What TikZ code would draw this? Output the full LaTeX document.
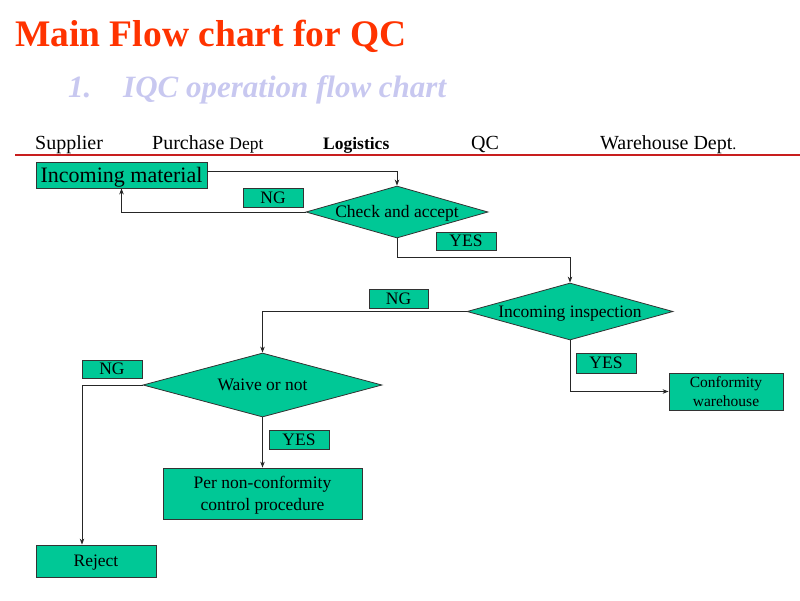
\documentclass[tikz,border=0pt]{standalone}
\usepackage{fontspec}
\setmainfont{Liberation Serif}
\usetikzlibrary{shapes.geometric,arrows.meta}
\definecolor{boxfill}{RGB}{0,200,150}
\definecolor{titlered}{RGB}{255,51,0}
\definecolor{subblue}{RGB}{200,200,240}
\definecolor{rulered}{RGB}{200,30,30}
\tikzset{
  fs/.style={font=\fontsize{#1}{#1}\selectfont},
  fsl/.style 2 args={font=\fontsize{#1}{#2}\selectfont},
  capc/.style={text height=#1, text depth=0pt},
  capc/.default=11.5pt,
  boxnode/.style={draw=black!80, line width=0.8pt, fill=boxfill, inner sep=0pt, align=center, fs=17.5},
  decide/.style={draw=black!80, line width=0.8pt, fill=boxfill, diamond, inner sep=0pt, fs=17.5, capc},
  flow/.style={draw=black!85, line width=1pt, -{Stealth[length=6pt,width=4.5pt]}},
  hdr/.style={anchor=base west, inner sep=0pt, fs=20}
}
\begin{document}
\begin{tikzpicture}[x=1pt,y=-1pt]
\useasboundingbox (0,0) rectangle (800,600);
% titles
\node[anchor=base west, inner sep=0pt, text=titlered, font=\fontsize{37.5}{37.5}\selectfont\bfseries] (title) at (15,46) {Main Flow chart for QC};
\node[anchor=base west, inner sep=0pt, text=subblue, font=\fontsize{31}{31}\selectfont\bfseries\itshape] (num) at (68,97) {1.};
\node[anchor=base west, inner sep=0pt, text=subblue, font=\fontsize{31}{31}\selectfont\bfseries\itshape] (subtitle) at (123,97) {IQC operation flow chart};
% header
\node[hdr] (h1) at (35,149) {Supplier};
\node[hdr] (h2) at (152,149) {Purchase {\fontsize{17.5}{17.5}\selectfont Dept}};
\node[hdr, font=\fontsize{17.5}{17.5}\selectfont\bfseries] (h3) at (323,149) {Logistics};
\node[hdr] (h4) at (471,149) {QC};
\node[hdr] (h5) at (600,149) {Warehouse Dept{\fontsize{16}{16}\selectfont .}};
\coordinate (r1) at (15,155);
\coordinate (r2) at (800,155);
\draw[rulered, line width=2.2pt] (r1) -- (r2);
% nodes
\node[boxnode, minimum width=171pt, minimum height=26pt, fs=22, capc=14.5pt] (inc) at (121.5,175) {Incoming material};
\node[decide, minimum width=182pt, minimum height=52pt] (check) at (397,212) {\makebox[0pt]{Check and accept}};
\node[boxnode, minimum width=60pt, minimum height=19pt, capc] (ng1) at (273,197.5) {NG};
\node[boxnode, minimum width=60pt, minimum height=18pt, capc] (yes1) at (466,241) {YES};
\node[decide, minimum width=206pt, minimum height=57pt] (insp) at (570,311.5) {\makebox[0pt]{Incoming inspection}};
\node[boxnode, minimum width=59pt, minimum height=19pt, capc] (ng2) at (398.5,298.5) {NG};
\node[boxnode, minimum width=60pt, minimum height=20pt, capc] (yes2) at (606,363) {YES};
\node[boxnode, minimum width=114pt, minimum height=37pt, fsl={15.5}{19}, text depth=0pt] (conf) at (726,391.5) {Conformity\\ warehouse};
\node[decide, minimum width=239pt, minimum height=64pt] (waive) at (262.5,385) {\makebox[0pt]{Waive or not}};
\node[boxnode, minimum width=60pt, minimum height=18pt, capc] (ng3) at (112,369) {NG};
\node[boxnode, minimum width=60pt, minimum height=19pt, capc] (yes3) at (299,439.5) {YES};
\node[boxnode, minimum width=199pt, minimum height=51pt, fsl={17.5}{22}, text depth=0pt] (per) at (262.5,493.5) {Per non-conformity\\ control procedure};
\node[boxnode, minimum width=120pt, minimum height=32pt, capc] (rej) at (96,561) {Reject};
% connectors
\draw[flow] ([yshift=4pt]inc.east) -| (check.north);
\draw[flow] (check.west) -| (inc.south);
\draw[flow] (check.south) -- ++(0,19) -| (insp.north);
\draw[flow] (insp.west) -| (waive.north);
\draw[flow] (insp.south) |- (conf.west);
\coordinate (rejin) at ([xshift=-14pt]rej.north);
\draw[flow] (waive.west) -| (rejin);
\draw[flow] (waive.south) -- (per.north);
\end{tikzpicture}
\end{document}
